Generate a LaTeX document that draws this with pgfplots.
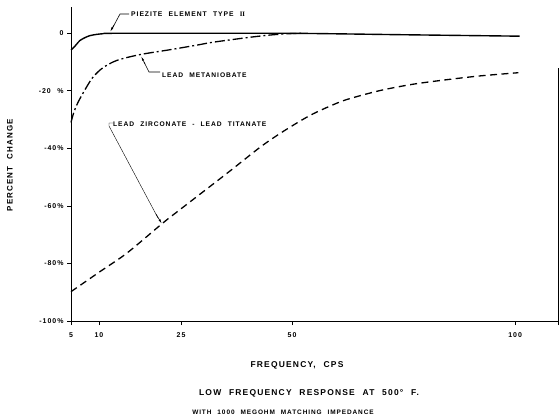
\documentclass[border=0pt]{standalone}
\usepackage{fontspec}
\setmainfont{Liberation Sans}
\newfontfamily\lr{Liberation Sans}[LetterSpace=14,WordSpace=2.2]
\newfontfamily\serifII{Liberation Serif}
\usepackage{pgfplots}
\pgfplotsset{compat=1.18}
\usetikzlibrary{arrows.meta}

\begin{document}
\begin{tikzpicture}[x=1bp,y=1bp]
\path[use as bounding box] (0,0) rectangle (559,-419);
\begin{axis}[
  at={(71bp,-321bp)}, anchor=south west,
  scale only axis, width=487bp, height=313.6bp,
  xmin=5, xmax=109.6, ymin=-100, ymax=9,
  x coord trafo/.code={\pgfmathparse{ifthenelse(#1<10, 71+(#1-5)*5.6, ifthenelse(#1<25, 99+(#1-10)*82/15, ifthenelse(#1<50, 181+(#1-25)*4.44, 292+(#1-50)*4.46)))}},
  axis x line=bottom, axis y line=left,
  axis line style={-, line width=0.9pt},
  xtick={5,10,25,50,100}, xticklabels={5,10,25,50,100},
  extra x ticks={109.6}, extra x tick labels={},
  ytick={-100,-80,-60,-40,-20,0},
  yticklabels={-100\%,-80\%,-60\%,-40\%,-20 \%,0},
  tick align=outside, major tick length=4bp,
  tick style={line width=0.8pt, black},
  ticklabel style={font=\lr\bfseries\fontsize{7}{8}\selectfont},
  xticklabel style={yshift=-4bp},
  clip=false,
]
\addplot[line width=1.4pt, black, smooth, tension=0.5] coordinates {
 (5,-5.8) (5.5,-4.9) (6,-3.8) (6.6,-2.5) (7.5,-1.5) (8.4,-0.8) (9.5,-0.4) (10.7,-0.15) (12.5,0) (30,0) (50,0) (75,-0.5) (101,-1)};
\addplot[line width=1.3pt, black, smooth, tension=0.5, dash pattern=on 10bp off 3bp on 2bp off 3bp] coordinates {
 (5,-31) (5.5,-27.5) (6.25,-24) (7.5,-19.6) (8.9,-15.3) (10.7,-12) (13.3,-9.4) (17.5,-7.4) (23,-5.7) (28.6,-4.1) (32.2,-3.1) (39.9,-1.5) (44.4,-0.7) (48.4,-0.2) (52,0)};
\addplot[line width=1.3pt, black, smooth, tension=0.5, dash pattern=on 7bp off 4.5bp] coordinates {
 (5,-89.8) (10.2,-82.8) (15.1,-76.4) (21.7,-65.9) (25,-61) (35.4,-48.6) (42.8,-39.6) (47.3,-34.8) (51.8,-30.5) (54.7,-28.0) (58.5,-25.3) (62.3,-23.0) (69.7,-19.9) (77.1,-17.7) (84.8,-16.1) (92.2,-14.8) (100.7,-13.7)};
\draw[line width=0.9pt] (rel axis cs:1,0) -- (rel axis cs:1,0.807);
\end{axis}
% leaders
\draw[line width=0.6pt] (129,-14) -- (120,-14) -- (112,-29);
\draw[line width=0.6pt, -{Latex[length=5bp,width=2bp]}] (114,-25) -- (110,-32);
\draw[line width=0.6pt] (160,-72) -- (149,-72) -- (144,-62);
\draw[line width=0.6pt, -{Latex[length=5bp,width=2bp]}] (145,-64) -- (141,-56);
\draw[line width=0.4pt] (113,-123) -- (109,-123) -- (109,-126) -- (158,-218);
\draw[line width=0.6pt, -{Latex[length=5bp,width=2bp]}] (156,-214) -- (162,-224);
\node[anchor=west, font=\lr\bfseries\fontsize{6.8}{8}\selectfont, inner sep=0] at (131,-14) {PIEZITE ELEMENT TYPE {\serifII\bfseries II}};
\node[anchor=west, font=\lr\bfseries\fontsize{6.7}{8}\selectfont, inner sep=0] at (162,-75) {LEAD METANIOBATE};
\node[anchor=west, font=\lr\bfseries\fontsize{6.7}{8}\selectfont, inner sep=0] at (113,-124) {LEAD ZIRCONATE - LEAD TITANATE};
% titles
\node[rotate=90, font=\lr\bfseries\fontsize{8}{9}\selectfont] at (10,-165) {PERCENT CHANGE};
\node[font=\lr\bfseries\fontsize{8.5}{10}\selectfont] at (297,-365) {FREQUENCY, CPS};
\node[font=\lr\bfseries\fontsize{8.5}{10}\selectfont] at (309,-393) {LOW FREQUENCY RESPONSE AT 500° F.};
\node[font=\lr\bfseries\fontsize{6.5}{7}\selectfont] at (283,-412) {WITH 1000 MEGOHM MATCHING IMPEDANCE};
\end{tikzpicture}
\end{document}
